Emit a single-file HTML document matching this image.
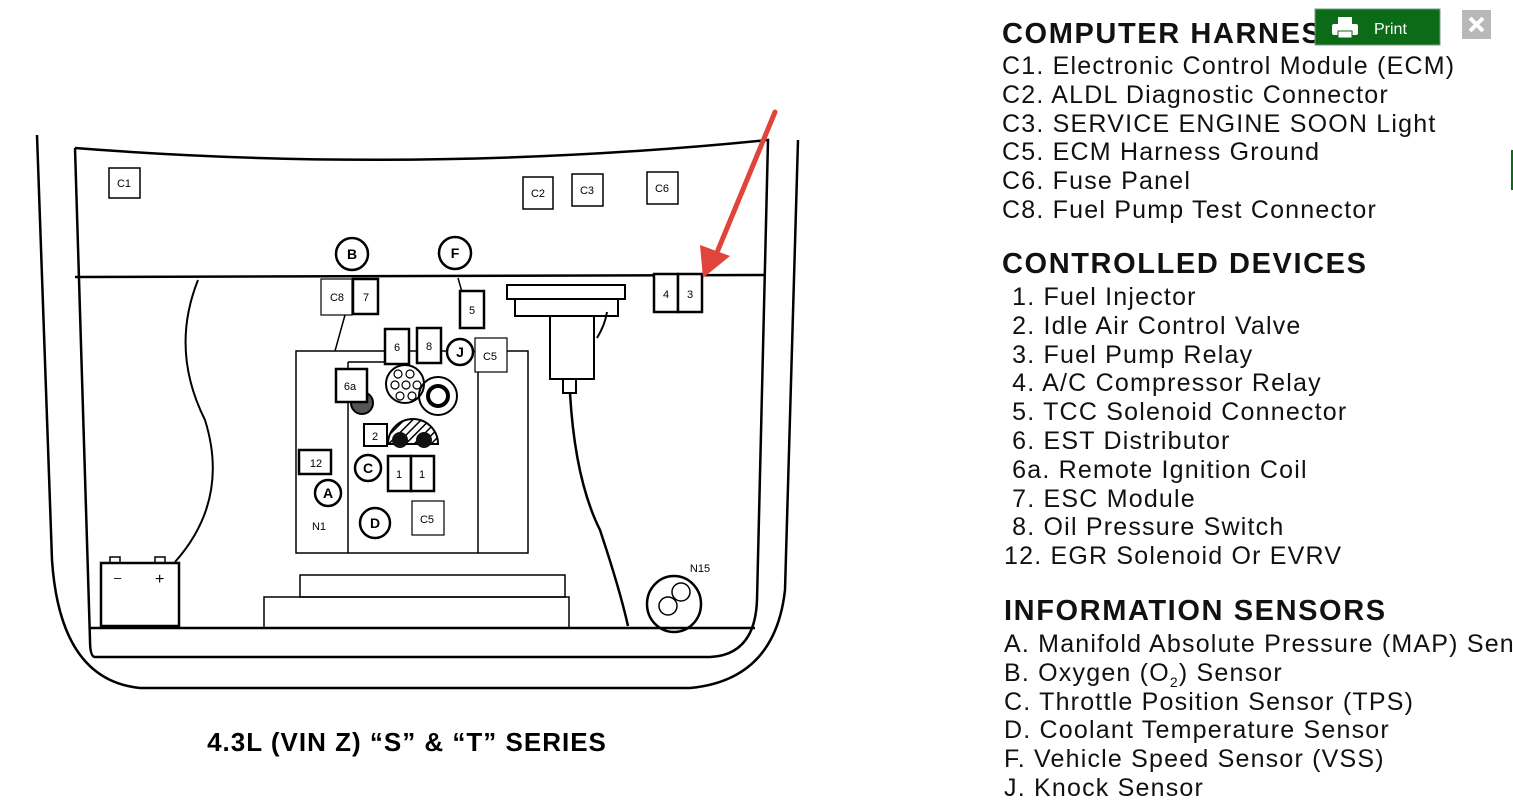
<!DOCTYPE html>
<html><head><meta charset="utf-8"><style>
body{margin:0;width:1513px;height:805px;background:#fff;overflow:hidden;position:relative;font-family:"Liberation Sans",sans-serif}
.r{position:absolute;left:1002px;color:#111;font-size:25px;line-height:28.8px;white-space:nowrap;letter-spacing:1.2px}
.h{font-weight:bold;font-size:29px;letter-spacing:1.6px}
</style></head><body>
<svg width="1513" height="805" style="position:absolute;left:0;top:0" font-family="Liberation Sans, sans-serif">
<g fill="none" stroke="#000" stroke-width="2.5">
<path d="M37 135 L52 560 Q60 680 140 688 L690 688 Q775 680 785 590 L798 140"/>
<path d="M75 148 Q420 175 768 140 L757 600 Q755 655 710 657 L95 657 Q90 657 90 640 L75 148"/>
<path d="M90 628 L755 628" />
<path d="M75 277 L765 275" />
<path d="M198 280 Q170 350 205 420 Q230 500 175 562" stroke-width="2"/>
<rect x="296" y="351" width="232" height="202" stroke-width="1.5"/>
<path d="M348 362 L348 553 M478 362 L478 553" stroke-width="1.5"/>
<path d="M348 362 L385 362" stroke-width="1.5"/>
<path d="M335 351 L345 315 M458 278 L462 292" stroke-width="1.5"/>
<rect x="300" y="575" width="265" height="22" stroke-width="1.5"/>
<rect x="264" y="597" width="305" height="31" stroke-width="1.5"/>
<rect x="101" y="563" width="78" height="63" stroke-width="2.5"/>
<rect x="110" y="557" width="10" height="6" stroke-width="1.5"/>
<rect x="155" y="557" width="10" height="6" stroke-width="1.5"/>
<ellipse cx="674" cy="604" rx="27" ry="28" stroke-width="2.5"/>
<circle cx="681" cy="592" r="9" stroke-width="1.5"/>
<circle cx="668" cy="606" r="9" stroke-width="1.5"/>
<rect x="507" y="285" width="118" height="14" stroke-width="2"/>
<rect x="515" y="299" width="103" height="17" stroke-width="2"/>
<rect x="550" y="316" width="44" height="63" stroke-width="2"/>
<rect x="563" y="379" width="13" height="14" stroke-width="2"/>
<path d="M570 393 Q575 480 600 530 Q620 590 628 626" stroke-width="2.5"/>
<path d="M597 338 Q605 325 607 312" stroke-width="2"/>
<circle cx="405" cy="384" r="19" stroke-width="2"/>
<circle cx="438" cy="396" r="19" stroke-width="2"/>
<circle cx="438" cy="396" r="10" stroke-width="4"/>
</g>
<defs><pattern id="hp" width="6" height="6" patternUnits="userSpaceOnUse" patternTransform="rotate(45)"><rect width="6" height="6" fill="#fff"/><line x1="0" y1="0" x2="0" y2="6" stroke="#000" stroke-width="3"/></pattern></defs>
<path d="M388 444 A25 25 0 0 1 438 444 Z" fill="url(#hp)" stroke="#000" stroke-width="2"/>
<circle cx="400" cy="440" r="8" fill="#111"/><circle cx="424" cy="440" r="8" fill="#111"/>
<circle cx="362" cy="403" r="11" fill="#555" stroke="#000" stroke-width="2"/>
<g fill="#fff" stroke="#000" stroke-width="1.2">
<circle cx="398" cy="374" r="4"/><circle cx="410" cy="374" r="4"/><circle cx="395" cy="385" r="4"/><circle cx="406" cy="385" r="4"/><circle cx="417" cy="385" r="4"/><circle cx="400" cy="396" r="4"/><circle cx="412" cy="396" r="4"/>
</g>
<g fill="#fff" stroke="#000" font-size="11" text-anchor="middle">
<rect x="109" y="168" width="31" height="30" stroke-width="1.5"/><text x="124" y="187" stroke="none" fill="#000">C1</text>
<rect x="523" y="177" width="30" height="32" stroke-width="1.5"/><text x="538" y="197" stroke="none" fill="#000">C2</text>
<rect x="572" y="174" width="31" height="32" stroke-width="1.5"/><text x="587" y="194" stroke="none" fill="#000">C3</text>
<rect x="647" y="172" width="31" height="32" stroke-width="1.5"/><text x="662" y="192" stroke="none" fill="#000">C6</text>
<rect x="321" y="279" width="31" height="36" stroke-width="1.2"/><text x="337" y="301" stroke="none" fill="#000">C8</text>
<rect x="353" y="279" width="25" height="35" stroke-width="2.5"/><text x="366" y="301" stroke="none" fill="#000">7</text>
<rect x="460" y="291" width="24" height="37" stroke-width="2.5"/><text x="472" y="314" stroke="none" fill="#000">5</text>
<rect x="654" y="274" width="24" height="38" stroke-width="2.5"/><text x="666" y="298" stroke="none" fill="#000">4</text>
<rect x="678" y="274" width="24" height="38" stroke-width="2.5"/><text x="690" y="298" stroke="none" fill="#000">3</text>
<rect x="385" y="329" width="24" height="35" stroke-width="2.5"/><text x="397" y="351" stroke="none" fill="#000">6</text>
<rect x="417" y="328" width="24" height="35" stroke-width="2.5"/><text x="429" y="350" stroke="none" fill="#000">8</text>
<rect x="475" y="338" width="32" height="34" stroke-width="1.2"/><text x="490" y="360" stroke="none" fill="#000">C5</text>
<rect x="336" y="369" width="31" height="33" stroke-width="2.5"/><text x="350" y="390" stroke="none" fill="#000">6a</text>
<rect x="364" y="424" width="23" height="22" stroke-width="2"/><text x="375" y="440" stroke="none" fill="#000">2</text>
<rect x="299" y="450" width="32" height="24" stroke-width="2.5"/><text x="316" y="467" stroke="none" fill="#000">12</text>
<rect x="388" y="456" width="23" height="35" stroke-width="2.5"/><text x="399" y="478" stroke="none" fill="#000">1</text>
<rect x="411" y="456" width="23" height="35" stroke-width="2.5"/><text x="422" y="478" stroke="none" fill="#000">1</text>
<rect x="412" y="501" width="32" height="34" stroke-width="1.2"/><text x="427" y="523" stroke="none" fill="#000">C5</text>
</g>
<g fill="#fff" stroke="#000" stroke-width="2.5" font-size="14" font-weight="bold" text-anchor="middle">
<circle cx="352" cy="254" r="16"/><text x="352" y="259" stroke="none" fill="#000">B</text>
<circle cx="455" cy="253" r="16"/><text x="455" y="258" stroke="none" fill="#000">F</text>
<circle cx="460" cy="352" r="13"/><text x="460" y="357" stroke="none" fill="#000">J</text>
<circle cx="368" cy="468" r="13"/><text x="368" y="473" stroke="none" fill="#000">C</text>
<circle cx="328" cy="493" r="13"/><text x="328" y="498" stroke="none" fill="#000">A</text>
<circle cx="375" cy="523" r="15"/><text x="375" y="528" stroke="none" fill="#000">D</text>
</g>
<text x="319" y="530" font-size="11" text-anchor="middle">N1</text>
<text x="700" y="572" font-size="11" text-anchor="middle">N15</text>
<text x="114" y="582" font-size="13">–</text><text x="155" y="584" font-size="16">+</text>
<text x="407" y="751" font-size="26" font-weight="bold" letter-spacing="1" text-anchor="middle">4.3L (VIN Z) “S” &amp; “T” SERIES</text>
<line x1="775" y1="112" x2="718" y2="250" stroke="#e0443a" stroke-width="5" stroke-linecap="round"/>
<polygon points="703,278 700,245 730,256" fill="#e0443a"/>
<rect x="1462" y="10" width="29" height="29" fill="#b8b8b8"/>
<path d="M1470 18 L1483 31 M1483 18 L1470 31" stroke="#fff" stroke-width="4"/>
<line x1="1512" y1="150" x2="1512" y2="190" stroke="#0c6b17" stroke-width="2"/>
</svg>
<div class="r h" style="top:20px">COMPUTER HARNESS</div>
<div class="r" style="top:52px">C1. Electronic Control Module (ECM)<br>C2. ALDL Diagnostic Connector<br>C3. SERVICE ENGINE SOON Light<br>C5. ECM Harness Ground<br>C6. Fuse Panel<br>C8. Fuel Pump Test Connector</div>
<div class="r h" style="top:250px">CONTROLLED DEVICES</div>
<div class="r" style="top:283px;left:1004px">&nbsp;1. Fuel Injector<br>&nbsp;2. Idle Air Control Valve<br>&nbsp;3. Fuel Pump Relay<br>&nbsp;4. A/C Compressor Relay<br>&nbsp;5. TCC Solenoid Connector<br>&nbsp;6. EST Distributor<br>&nbsp;6a. Remote Ignition Coil<br>&nbsp;7. ESC Module<br>&nbsp;8. Oil Pressure Switch<br>12. EGR Solenoid Or EVRV</div>
<div class="r h" style="top:597px;left:1004px">INFORMATION SENSORS</div>
<div class="r" style="top:630px;left:1004px">A. Manifold Absolute Pressure (MAP) Sensor<br>B. Oxygen (O<sub style="font-size:14px;line-height:0">2</sub>) Sensor<br>C. Throttle Position Sensor (TPS)<br>D. Coolant Temperature Sensor<br>F. Vehicle Speed Sensor (VSS)<br>J. Knock Sensor</div>
<svg width="1513" height="805" style="position:absolute;left:0;top:0;pointer-events:none">
<rect x="1315" y="9" width="125" height="36" fill="#0c6b17" stroke="#7a9a7e"/>
<rect x="1338" y="17" width="14" height="7" fill="#fff"/><rect x="1332" y="24" width="26" height="11" rx="2" fill="#fff"/><rect x="1338" y="31" width="14" height="7" fill="#fff" stroke="#0c6b17"/>
<text x="1374" y="34" font-size="16" fill="#fff" font-family="Liberation Sans, sans-serif">Print</text>
</svg>
</body></html>
